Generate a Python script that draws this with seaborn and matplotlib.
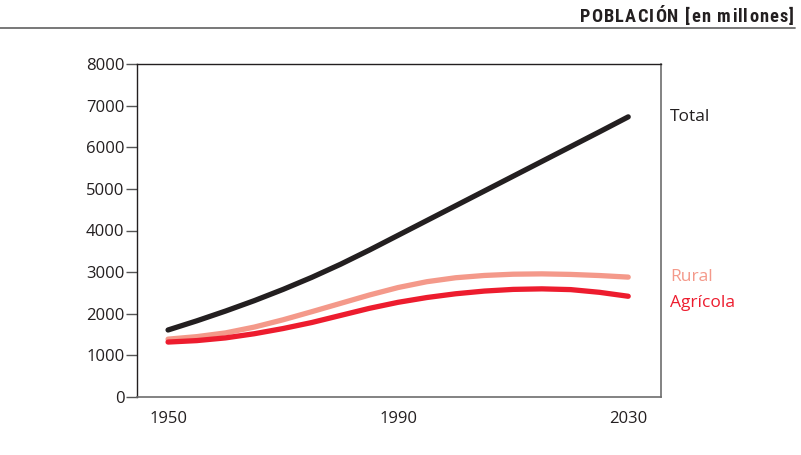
import matplotlib
matplotlib.use("Agg")
import matplotlib.pyplot as plt
import seaborn as sns
import pandas as pd
from matplotlib import font_manager

years = [1950, 1955, 1960, 1965, 1970, 1975, 1980, 1985, 1990, 1995,
         2000, 2005, 2010, 2015, 2020, 2025, 2030]
total = [1610, 1830, 2065, 2315, 2585, 2875, 3190, 3530, 3885, 4240,
         4595, 4950, 5305, 5660, 6015, 6370, 6730]
rural = [1390, 1450, 1540, 1680, 1855, 2050, 2250, 2450, 2630, 2770,
         2865, 2920, 2950, 2958, 2945, 2918, 2880]
agricola = [1320, 1355, 1420, 1520, 1645, 1790, 1960, 2130, 2275, 2390,
            2480, 2545, 2585, 2598, 2580, 2515, 2420]
series_names = ["Total", "Rural", "Agrícola"]
x_ticks = [1950, 1990, 2030]
y_ticks = [0, 1000, 2000, 3000, 4000, 5000, 6000, 7000, 8000]
title = "POBLACIÓN [en millones]"

colors = {"Total": "#231f20", "Rural": "#f4998a", "Agrícola": "#ed1c2e"}

df = pd.DataFrame({
    "year": years * 3,
    "value": total + rural + agricola,
    "serie": [series_names[0]] * len(years) + [series_names[1]] * len(years)
             + [series_names[2]] * len(years),
})

sns.set_style("white")
plt.rcParams["font.family"] = ["Open Sans", "DejaVu Sans"]

fig = plt.figure(figsize=(8.01, 4.55), dpi=100)
ax = fig.add_axes([137 / 801, 1 - 397 / 455, (661 - 137) / 801, (397 - 64) / 455])

sns.lineplot(data=df, x="year", y="value", hue="serie", palette=colors,
             linewidth=3.8, legend=False, ax=ax, sort=True)
for ln in ax.get_lines():
    ln.set_solid_capstyle("round")
    ln.set_solid_joinstyle("round")

ax.set_xlim(1944.6, 2035.7)
ax.set_ylim(0, 8000)
ax.set_xticks(x_ticks)
ax.set_xticklabels([str(t) for t in x_ticks])
ax.set_yticks(y_ticks)
ax.set_yticklabels([str(t) for t in y_ticks])
ax.set_xlabel("")
ax.set_ylabel("")

ax.tick_params(axis="y", which="both", left=True, length=8, width=1,
               color="#555555", labelsize=12, labelcolor="#231f20", pad=1)
ax.tick_params(axis="x", which="both", bottom=False, length=0,
               labelsize=12, labelcolor="#231f20", pad=10)

for side in ["left", "top"]:
    ax.spines[side].set_color("#231f20")
    ax.spines[side].set_linewidth(1)
for side in ["right", "bottom"]:
    ax.spines[side].set_color("#6d6d6d")
    ax.spines[side].set_linewidth(1.2)

# series labels at right
fig.text(670 / 801, 1 - 117 / 455, "Total", color=colors["Total"], fontsize=12.5,
         ha="left", va="center")
fig.text(670 / 801, 1 - 277 / 455, "Rural", color=colors["Rural"], fontsize=12.5,
         ha="left", va="center")
fig.text(670 / 801, 1 - 303 / 455, "Agrícola", color=colors["Agrícola"], fontsize=12.5,
         ha="left", va="center")

# header: condensed, letter-spaced text, placed char by char
avail = {f.name for f in font_manager.fontManager.ttflist}
cond = [f for f in ["DejaVu Sans Condensed", "Liberation Sans Narrow", "Roboto Condensed"]
        if f in avail]
hfam = cond + ["DejaVu Sans"]
hsize = 13.2 if cond else 11
renderer = fig.canvas.get_renderer()
widths = []
for ch in title:
    t = fig.text(0, 0, ch if ch != " " else "n", fontsize=hsize, fontweight="bold",
                 family=hfam)
    w = t.get_window_extent(renderer).width
    if ch == " ":
        w *= 0.5
    widths.append(w)
    t.remove()
target_left, target_right = 580.0, 794.0
natural = sum(widths)
spacing = (target_right - target_left - natural) / (len(title) - 1)
xpos = target_left
for ch, w in zip(title, widths):
    if ch != " ":
        fig.text(xpos / 801, 1 - 17 / 455, ch, ha="left", va="center",
                 fontsize=hsize, fontweight="bold", color="#231f20", family=hfam)
    xpos += w + spacing

fig.add_artist(plt.Line2D([0, 795 / 801], [1 - 28 / 455, 1 - 28 / 455],
                          transform=fig.transFigure, color="#6d6d6d", linewidth=1.3))

fig.savefig("out.png", dpi=100)
